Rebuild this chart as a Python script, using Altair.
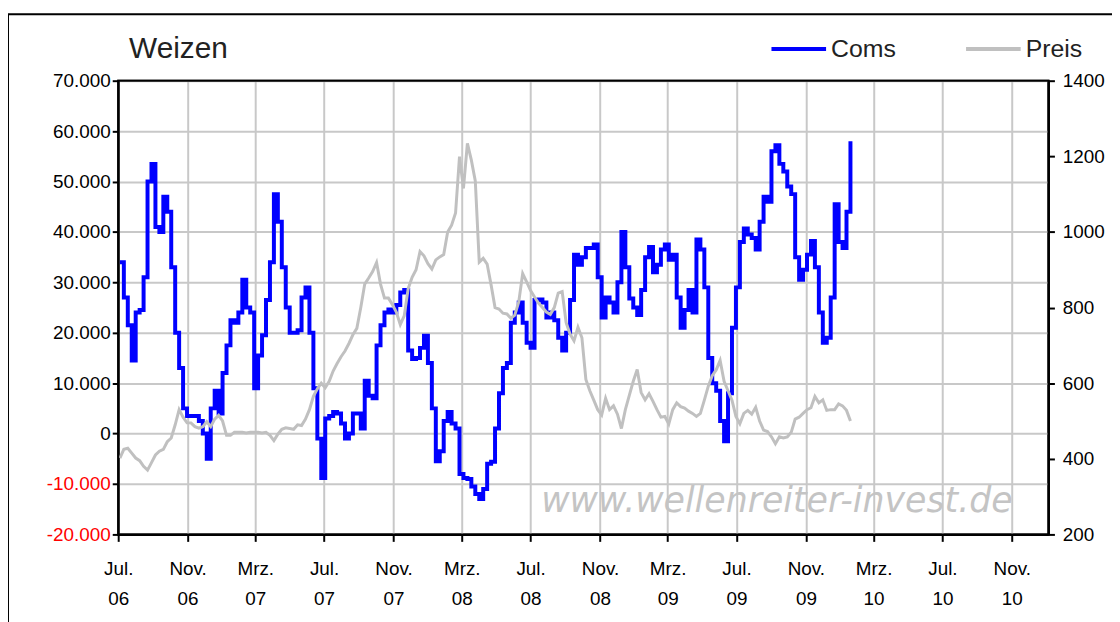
import altair as alt
import pandas as pd

# ---- data (weekly, starting 2006-07-04) ----
coms = [
    34000, 27000, 21500, 14500, 24000, 24500, 31000, 50000, 53500, 41000,
    40000, 47000, 44000, 33000, 20000, 13000, 5000, 3500, 3500, 3500,
    2500, 0, -5000, 5000, 8500, 4000, 12000, 17500, 22500, 22000,
    24000, 30500,
    25000, 24000, 9000, 15500, 19500, 26500, 34000, 47500, 42000, 33000,
    25000, 20000, 20000, 20500, 27000, 29000, 20000, 9000, -1000, -8800,
    3000, 3500, 4300, 4000, 2000, -1000, 0, 4000, 4000, 1000, 10500,
    7500, 7000, 17500, 21500, 24000, 24600, 24000, 25500, 28000, 28500,
    16500, 14800, 15000, 17000, 19400, 14000, 5000, -5500, -3500, 2500,
    4300, 2000, 1000, -8000, -8800, -9000, -10500, -12000, -13000, -11000,
    -6000,
    -5600, 1000, 8000, 13000, 14000, 22000, 24000, 26000, 22000, 18000,
    17000, 26500, 26600, 26000, 23000, 24000, 22500, 19000, 16500, 20000,
    26500, 35500, 33500, 35000, 36800, 36800, 37500, 31000, 23000, 27000,
    26000,
    24000, 30000, 40000, 33000, 26800, 25000, 23500, 28500, 35000, 37000,
    32000, 33500, 36500, 37500, 34500, 35500, 27000, 21000, 24500, 28500,
    24000, 38500, 36500, 29000, 15000, 10000, 8500, 2500, -1500, 8000,
    21000,
    29000, 38000, 40700, 39500, 38800, 36500, 42000, 47000, 46000, 56000,
    57200, 53500, 52000, 49000, 47500, 35000, 30500, 32500, 35500, 38200,
    33000, 24000, 18000, 19000, 27000, 45500, 38000, 36800, 44000, 58000,
]

preis = [
    402, 425, 428, 415, 402, 395, 380, 370, 390, 410,
    420, 425, 445, 455, 490, 530, 510, 495, 495, 485,
    481, 485, 498, 485, 505, 515, 500, 462, 462, 470,
    470, 470,
    468, 470, 470, 470, 468, 470, 462, 448, 465, 478,
    482, 480, 478, 490, 488, 505, 530, 565, 585, 600,
    588, 605, 632, 652, 670, 685, 705, 728, 745, 800, 862,
    878, 895, 919, 862, 825, 825, 808, 788, 755, 778,
    850, 880, 900, 948, 937, 916, 902, 926, 934, 940,
    1000, 1018, 1050, 1199, 1115, 1234, 1190, 1135, 920, 930,
    915,
    860, 800, 796, 785, 783, 772, 780, 815, 890, 868,
    845, 828, 812, 800, 788, 782, 800, 838, 842, 760,
    730, 712, 748, 720, 610, 580, 555, 530, 516, 560,
    530,
    540, 518, 480, 530, 568, 605, 636, 575, 556, 572,
    552, 530, 510, 512, 492, 530, 548, 538, 534, 526,
    520, 512, 520, 555, 592, 620, 635, 660, 605, 580,
    555,
    512, 493, 520, 528, 518, 536, 500, 476, 472, 458,
    440, 458, 455, 458, 470, 505, 510, 520, 530, 535,
    565, 548, 556, 528, 530, 530, 545, 540, 528, 500,
]

start_date = "2006-07-04"
x_tick_months = [(2006, 7), (2006, 11), (2007, 3), (2007, 7), (2007, 11),
                 (2008, 3), (2008, 7), (2008, 11), (2009, 3), (2009, 7),
                 (2009, 11), (2010, 3), (2010, 7), (2010, 11)]
left_ticks = list(range(-20000, 70001, 10000))
right_ticks = list(range(200, 1401, 200))
series_names = ["Coms", "Preis"]
title_text = "Weizen"
watermark = "www.wellenreiter-invest.de"

FONT = "Liberation Sans"
BLUE = "#0000ff"
GRAY = "#c0c0c0"

dates = pd.date_range(start_date, periods=len(coms), freq="7D")
df = pd.DataFrame({"date": dates, "coms": coms, "preis": preis})
one = pd.DataFrame({"k": [0]})

x_scale = alt.Scale(domain=[alt.DateTime(year=2006, month=7, date=1),
                            alt.DateTime(year=2011, month=1, date=5)])
x_vals = [alt.DateTime(year=y, month=m, date=1) for (y, m) in x_tick_months]

x_axis = alt.Axis(
    values=x_vals, title=None, grid=True, gridColor="#c8c8c8", gridWidth=2,
    tickSize=7, labelPadding=18, labelLineHeight=31, labelFontSize=19,
    labelFont=FONT, labelColor="#000000", labelFlush=False, labelOverlap=False,
    labelExpr="[month(datum.value)==6 ? 'Jul.' : (month(datum.value)==10 ? 'Nov.' : 'Mrz.'), timeFormat(datum.value, '%y')]",
)

left_axis = alt.Axis(
    values=left_ticks, title=None, grid=True, gridColor="#c8c8c8", gridWidth=2,
    tickSize=6, labelPadding=2, labelFontSize=19, labelFont=FONT,
    labelExpr="(datum.value < 0 ? '-' : '') + replace(format(abs(datum.value), ','), ',', '.')",
    labelColor={"condition": {"test": "datum.value < 0", "value": "#ff0000"}, "value": "#000000"},
)

right_axis = alt.Axis(
    orient="right", values=right_ticks, title=None, grid=False,
    tickSize=6, labelPadding=8, labelFontSize=19, labelFont=FONT,
    labelColor="#000000", format="d",
)

blue = alt.Chart(df).mark_line(color=BLUE, strokeWidth=4, interpolate="step-after").encode(
    x=alt.X("date:T", scale=x_scale, axis=x_axis),
    y=alt.Y("coms:Q", scale=alt.Scale(domain=[-20000, 70000], nice=False, zero=False), axis=left_axis),
)

gray = alt.Chart(df).mark_line(color=GRAY, strokeWidth=3).encode(
    x=alt.X("date:T", scale=x_scale, axis=x_axis),
    y=alt.Y("preis:Q", scale=alt.Scale(domain=[200, 1400], nice=False, zero=False), axis=right_axis),
)

wm = alt.Chart(one).mark_text(
    text=watermark, font="DejaVu Sans", fontStyle="italic", fontSize=35,
    color="#c4c4c4", align="left", baseline="alphabetic",
).encode(x=alt.value(426), y=alt.value(434))

title = alt.Chart(one).mark_text(
    text=title_text, font=FONT, fontSize=30, color="#222222", align="left", baseline="middle",
).encode(x=alt.value(11), y=alt.value(-32))

leg_blue = alt.Chart(one).mark_rule(color=BLUE, strokeWidth=4).encode(
    x=alt.value(658), x2=alt.value(713), y=alt.value(-32))
leg_blue_t = alt.Chart(one).mark_text(
    text=series_names[0], font=FONT, fontSize=25, color="#222222", align="left", baseline="middle",
).encode(x=alt.value(718), y=alt.value(-32))
leg_gray = alt.Chart(one).mark_rule(color=GRAY, strokeWidth=4).encode(
    x=alt.value(854), x2=alt.value(909), y=alt.value(-32))
leg_gray_t = alt.Chart(one).mark_text(
    text=series_names[1], font=FONT, fontSize=25, color="#222222", align="left", baseline="middle",
).encode(x=alt.value(914), y=alt.value(-32))

plot_frame = alt.Chart(one).mark_rect(fillOpacity=0, stroke="#000000", strokeWidth=2).encode(
    x=alt.value(0), x2=alt.value(937), y=alt.value(0), y2=alt.value(457))

frame = alt.Chart(one).mark_rect(fillOpacity=0, stroke="#000000", strokeWidth=2).encode(
    x=alt.value(-111), x2=alt.value(1200), y=alt.value(-67), y2=alt.value(700))

chart = alt.layer(
    wm, blue, gray, title, leg_blue, leg_blue_t, leg_gray, leg_gray_t, plot_frame, frame
).resolve_scale(y="independent").properties(
    width=937, height=457,
    autosize=alt.AutoSizeParams(type="none"),
    padding={"left": 111, "top": 71, "right": 64, "bottom": 86},
    background="#ffffff",
).configure_view(
    stroke="#000000", strokeWidth=2,
).configure_axis(
    domainColor="#000000", domainWidth=2, tickColor="#000000", tickWidth=2,
)

chart.save("out.html", embed_options={"renderer": "svg", "actions": False})
